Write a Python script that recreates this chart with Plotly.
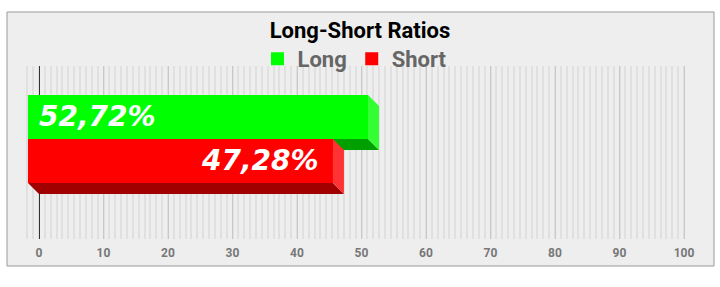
import plotly.graph_objects as go

# ---- data ----
categories = ["Long", "Short"]
values = [52.72, 47.28]
front_colors = ["#00ff00", "#ff0000"]
side_colors = ["#33ff33", "#ff3333"]
bottom_colors = ["#00a000", "#a00000"]
tick_values = [0, 10, 20, 30, 40, 50, 60, 70, 80, 90, 100]

# 3D depth (style)
DX = 1.705   # x-axis units
DY = 0.25    # category-slot units

# plot area geometry (px)
L, R, T, B = 21, 32, 66, 48
PW, PH = 720 - L - R, 287 - T - B
PX_PER_UNIT = 6.45
X0 = -(39 - L) / PX_PER_UNIT
X1 = X0 + PW / PX_PER_UNIT

fig = go.Figure()

for i, (name, v) in enumerate(zip(categories, values)):
    top, bot = i - 0.5, i + 0.5
    # bottom face
    fig.add_trace(go.Scatter(
        x=[-DX, v - DX, v, 0, -DX],
        y=[bot, bot, bot + DY, bot + DY, bot],
        fill="toself", fillcolor=bottom_colors[i], mode="lines",
        line=dict(width=0, color=bottom_colors[i]), showlegend=False, hoverinfo="skip"))
    # side face
    fig.add_trace(go.Scatter(
        x=[v - DX, v, v, v - DX, v - DX],
        y=[top, top + DY, bot + DY, bot, top],
        fill="toself", fillcolor=side_colors[i], mode="lines",
        line=dict(width=0, color=side_colors[i]), showlegend=False, hoverinfo="skip"))
    # front face
    fig.add_trace(go.Scatter(
        x=[-DX, v - DX, v - DX, -DX, -DX],
        y=[top, top, bot, bot, top],
        fill="toself", fillcolor=front_colors[i], mode="lines",
        line=dict(width=0, color=front_colors[i]), showlegend=False, hoverinfo="skip"))

# legend entries
for i, name in enumerate(categories):
    fig.add_trace(go.Scatter(
        x=[None], y=[None], mode="markers", name=name,
        marker=dict(symbol="square", size=13, color=front_colors[i])))

# value labels
label_font = dict(family="DejaVu Sans", size=28, color="white", weight="bold", style="italic")
fig.add_annotation(x=-DX, y=0, text=f"{values[0]:.2f}".replace(".", ",") + "%",
                   xanchor="left", yanchor="middle", xshift=9, showarrow=False, font=label_font)
fig.add_annotation(x=values[1] - DX, y=1, text=f"{values[1]:.2f}".replace(".", ",") + "%",
                   xanchor="right", yanchor="middle", xshift=-12, showarrow=False, font=label_font)

# chart frame
fig.add_shape(type="rect", xref="paper", yref="paper",
              x0=(7 - L) / PW, x1=(714 - L) / PW,
              y0=-(266 - (287 - B)) / PH, y1=1 + (T - 12) / PH,
              line=dict(color="#999999", width=1), fillcolor="#eeeeee", layer="below")

fig.update_layout(
    width=720, height=287,
    margin=dict(l=L, r=R, t=T, b=B, autoexpand=False),
    paper_bgcolor="white", plot_bgcolor="#eeeeee",
    title=dict(text="Long-Short Ratios", x=0.5, xref="container", xanchor="center",
               y=1 - 30 / 287, yref="container", yanchor="middle",
               font=dict(family="Roboto", size=22, color="black", weight="bold")),
    legend=dict(orientation="h", x=0.5 - 5 / 720, xref="container", xanchor="center",
                y=1 - 59 / 287, yref="container", yanchor="middle",
                font=dict(family="Roboto", size=22, color="#666666", weight="bold"),
                itemwidth=30, bgcolor="rgba(0,0,0,0)", tracegroupgap=0),
    showlegend=True,
    hovermode=False,
)

fig.update_xaxes(
    range=[X0, X1], tickvals=tick_values, ticktext=[str(t) for t in tick_values],
    showgrid=True, gridcolor="#c8c8c8", gridwidth=1,
    zeroline=True, zerolinecolor="#333333", zerolinewidth=1,
    showline=False, ticks="outside", ticklen=3, tickcolor="rgba(0,0,0,0)",
    tickfont=dict(family="Roboto", size=12, color="#777777", weight="bold"),
    minor=dict(dtick=10 / 11, tick0=0, showgrid=True, gridcolor="#e0e0e0", gridwidth=1.5),
    fixedrange=True,
)
fig.update_yaxes(
    range=[2.773, -1.159], showgrid=False, zeroline=False, showticklabels=False,
    showline=False, fixedrange=True,
)

fig.write_html("out.html")
